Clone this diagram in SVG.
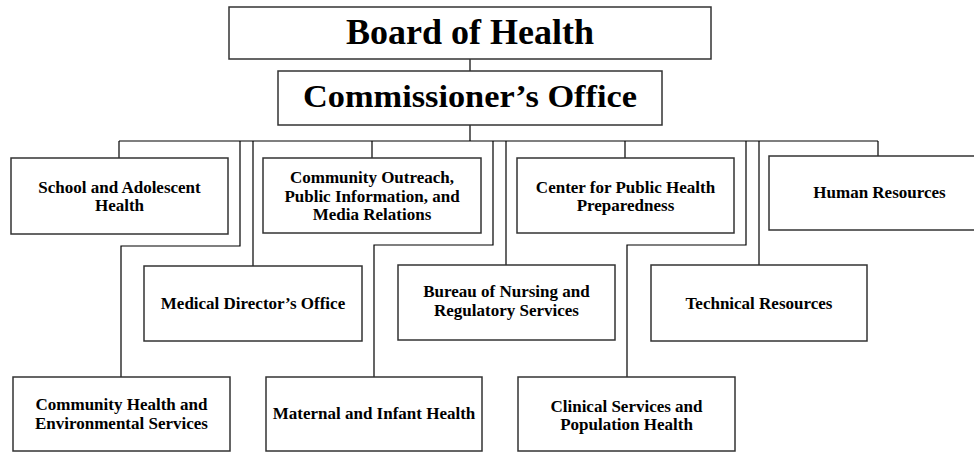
<svg xmlns="http://www.w3.org/2000/svg" width="974" height="452" viewBox="0 0 974 452">
<style>
.box{fill:#fff;stroke:#333;stroke-width:1.5}
.c{fill:none;stroke:#000;stroke-width:1.2}
text{font-family:"Liberation Serif","Times New Roman",serif;font-weight:bold;fill:#000;text-anchor:middle}
.s{font-size:17px}
</style>
<rect width="974" height="452" fill="#fff"/>
<g id="connectors">
<path class="c" d="M470 59V71M470 125V141M119 141H878"/>
<path class="c" d="M119 141V158"/>
<path class="c" d="M240 141V246H121V377"/>
<path class="c" d="M253 141V266"/>
<path class="c" d="M372 141V158"/>
<path class="c" d="M493 141V245H374V377"/>
<path class="c" d="M506 141V265"/>
<path class="c" d="M625 141V158"/>
<path class="c" d="M746 141V245H627V377"/>
<path class="c" d="M759 141V265"/>
<path class="c" d="M878 141V156"/>
</g>
<g id="board"><rect class="box" x="229" y="7" width="482" height="52"/><text x="470" y="44" font-size="36">Board of Health</text></g>
<g id="commissioner"><rect class="box" x="278" y="71" width="384" height="54"/><text x="470" y="107" font-size="32" textLength="334" lengthAdjust="spacingAndGlyphs">Commissioner’s Office</text></g>
<g id="school"><rect class="box" x="11" y="158" width="217" height="76"/><text class="s" x="119.5" y="193">School and Adolescent</text><text class="s" x="119.5" y="211">Health</text></g>
<g id="outreach"><rect class="box" x="263" y="158" width="218" height="75"/><text class="s" x="372" y="183">Community Outreach,</text><text class="s" x="372" y="202">Public Information, and</text><text class="s" x="372" y="220">Media Relations</text></g>
<g id="preparedness"><rect class="box" x="517" y="158" width="217" height="75"/><text class="s" x="625.5" y="193">Center for Public Health</text><text class="s" x="625.5" y="211">Preparedness</text></g>
<g id="hr"><rect class="box" x="769" y="156" width="220" height="74"/><text class="s" x="879.5" y="198">Human Resources</text></g>
<g id="medical"><rect class="box" x="144" y="266" width="218" height="75"/><text class="s" x="253" y="309">Medical Director’s Office</text></g>
<g id="bureau"><rect class="box" x="398" y="265" width="217" height="75"/><text class="s" x="506.5" y="297">Bureau of Nursing and</text><text class="s" x="506.5" y="316">Regulatory Services</text></g>
<g id="technical"><rect class="box" x="651" y="265" width="216" height="76"/><text class="s" x="759" y="309">Technical Resources</text></g>
<g id="ches"><rect class="box" x="13" y="377" width="217" height="74"/><text class="s" x="121.5" y="410">Community Health and</text><text class="s" x="121.5" y="429">Environmental Services</text></g>
<g id="maternal"><rect class="box" x="266" y="377" width="216" height="74"/><text class="s" x="374" y="419">Maternal and Infant Health</text></g>
<g id="clinical"><rect class="box" x="518" y="377" width="217" height="74"/><text class="s" x="626.5" y="412">Clinical Services and</text><text class="s" x="626.5" y="430">Population Health</text></g>
</svg>
